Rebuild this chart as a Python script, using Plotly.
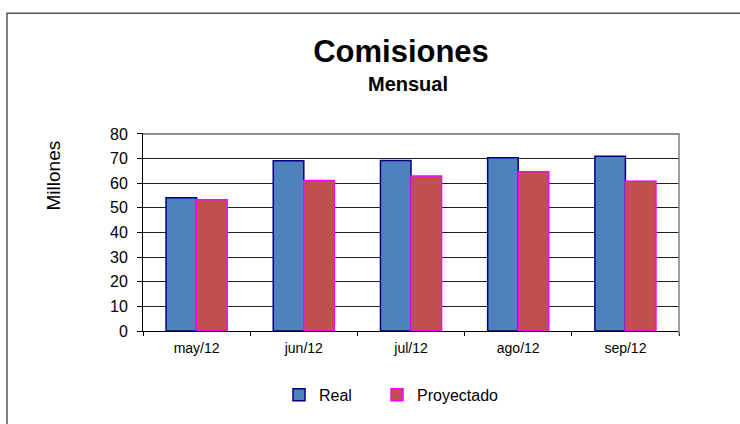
import plotly.graph_objects as go

meses = ["may/12", "jun/12", "jul/12", "ago/12", "sep/12"]
real = [54.1, 69.1, 69.2, 70.3, 71.0]
proyectado = [53.3, 61.1, 62.9, 64.7, 60.8]
y_ticks = [0, 10, 20, 30, 40, 50, 60, 70, 80]

FONT = "Liberation Sans, Arial, sans-serif"

W, H = 740, 424
L, R, T, B = 143, 679, 134, 339  # plot area in pixels

def px_x(x):
    return (x - L) / (R - L)

def px_y(y):
    return (B - y) / (B - T)

fig = go.Figure()
fig.add_trace(go.Bar(
    x=meses, y=real, name="Real", legend="legend",
    marker=dict(color="#4F81BD", line=dict(color="#000080", width=1.5)),
))
fig.add_trace(go.Bar(
    x=meses, y=proyectado, name="Proyectado", legend="legend2",
    marker=dict(color="#C0504D", line=dict(color="#FF00FF", width=1.5)),
))

legend_common = dict(
    orientation="h", xanchor="left", y=px_y(405), yanchor="middle",
    font=dict(size=16, family=FONT, color="black"),
    bgcolor="rgba(0,0,0,0)", borderwidth=0,
)

fig.update_layout(
    width=W, height=H,
    margin=dict(l=L, r=W - R, t=T - 1, b=H - B, pad=0),
    paper_bgcolor="white", plot_bgcolor="white",
    barmode="group", bargap=0.43, bargroupgap=0,
    font=dict(family=FONT, size=14, color="black"),
    showlegend=True,
    legend=dict(x=px_x(279), **legend_common),
    legend2=dict(x=px_x(377), **legend_common),
    xaxis=dict(
        type="category", showline=True, linecolor="black", linewidth=1,
        ticks="outside", ticklen=4, tickcolor="black", tickson="boundaries",
        showgrid=False, tickfont=dict(size=14), fixedrange=True,
        ticklabelstandoff=4,
    ),
    yaxis=dict(
        range=[0, 80.4], tickvals=y_ticks,
        showline=True, linecolor="black", linewidth=1,
        ticks="outside", ticklen=5, tickcolor="black",
        showgrid=True, gridcolor="#222222", gridwidth=1,
        tickfont=dict(size=16), zeroline=False, fixedrange=True,
        ticklabelstandoff=6,
    ),
    title=dict(
        text="<b>Comisiones</b>", x=401 / W, xanchor="center",
        y=1 - 51 / H, yanchor="middle",
        font=dict(size=31, family=FONT, color="black"),
    ),
)

fig.add_annotation(
    text="<b>Mensual</b>", xref="paper", yref="paper",
    x=px_x(408), y=px_y(83), xanchor="center", yanchor="middle",
    showarrow=False, font=dict(size=20, family=FONT, color="black"),
)
fig.add_annotation(
    text="Millones", xref="paper", yref="paper",
    x=px_x(53), y=px_y(178), xanchor="center", yanchor="middle",
    textangle=-90, showarrow=False, font=dict(size=19, family=FONT, color="black"),
)

# top gridline (at the last y tick)
fig.add_shape(type="line", xref="paper", yref="y",
              x0=0, x1=1, y0=y_ticks[-1], y1=y_ticks[-1],
              line=dict(color="#222222", width=1), layer="below")
# right border of plot area
fig.add_shape(type="line", xref="paper", yref="paper",
              x0=1, x1=1, y0=px_y(343), y1=1,
              line=dict(color="#808080", width=1.5))
# outer chart border
fig.add_shape(type="rect", xref="paper", yref="paper",
              x0=px_x(7), x1=px_x(800), y0=px_y(460), y1=px_y(10),
              line=dict(color="#555555", width=1.5), fillcolor="rgba(0,0,0,0)")

fig.write_html(
    "out.html",
    config={"displayModeBar": False},
    post_script="document.body.style.margin='0';document.body.style.overflow='hidden';",
)
